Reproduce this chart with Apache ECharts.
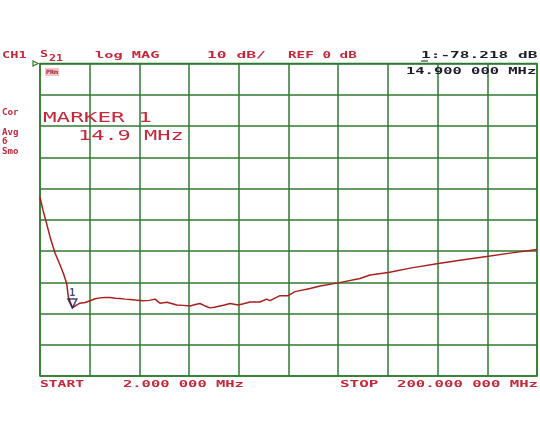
<!DOCTYPE html>
<html>
<head>
<meta charset="utf-8">
<script src="https://cdn.jsdelivr.net/npm/echarts@6/dist/echarts.min.js"></script>
<style>html,body{margin:0;padding:0;background:#fff}#c{width:540px;height:440px}</style>
</head>
<body>
<div id="c"></div>
<script>
// Data (S21 log MAG, 2 MHz .. 200 MHz)
const freqMHz = [2, 3.2, 4.4, 6, 8, 9.5, 11.3, 12.6, 13.3, 14.9, 16.5, 17.9, 20, 21.9, 24, 25.9, 28, 29.9, 32, 33.9, 36, 37.9, 40, 43, 45.5, 47.8, 49.8, 52.6, 56.5, 59, 61.8, 63.5, 65.7, 67.5, 69.7, 71.5, 73.7, 75.5, 77.7, 81, 83, 85.7, 89.6, 92.3, 93.6, 97.6, 100.9, 103.6, 109.6, 113.6, 120.8, 129.5, 133.5, 140.8, 150, 160.7, 170, 180.6, 190, 200];
const s21dB = [-42.7, -47, -50.5, -55.5, -60.7, -63.5, -67.1, -70.3, -74.7, -78.2, -77.3, -76.7, -76.5, -75.9, -75.3, -75.0, -74.9, -74.9, -75.1, -75.2, -75.4, -75.5, -75.7, -75.9, -75.8, -75.4, -76.7, -76.4, -77.3, -77.4, -77.6, -77.2, -76.8, -77.5, -78.2, -78.0, -77.6, -77.3, -76.8, -77.3, -76.9, -76.3, -76.3, -75.4, -75.9, -74.3, -74.3, -73.0, -72.0, -71.2, -70.2, -68.8, -67.7, -66.9, -65.4, -64.0, -62.9, -61.7, -60.6, -59.5];
const markerFreq = [14.9];
const markerDb = [-78.218];
const refDb = 0, scaleDbPerDiv = 10, divisions = 10;
const startMHz = 2, stopMHz = 200;

const RED = '#c4283a', INK = '#1c1c2c', GREEN = '#2f7a30';
const chart = echarts.init(document.getElementById('c'), null, {renderer: 'canvas'});

function txt(str, x, y, size, cell, color, weight) {
  const sx = cell / (0.602 * size);
  return {
    type: 'text', x: x, y: y, scaleX: sx, z: 100,
    style: {text: str, fill: color, font: (weight || 'bold') + ' ' + size + 'px "DejaVu Sans Mono"', textVerticalAlign: 'middle'}
  };
}

const option = {
  backgroundColor: '#ffffff',
  animation: false,
  grid: {left: 40, top: 63.5, right: 3, bottom: 64, show: true, borderColor: GREEN, borderWidth: 1.5, backgroundColor: 'transparent'},
  xAxis: [
    {type: 'value', min: startMHz, max: stopMHz, show: false},
    {type: 'value', min: 0, max: divisions, interval: 1, position: 'bottom',
     axisLine: {show: false}, axisTick: {show: false}, axisLabel: {show: false},
     splitLine: {show: true, lineStyle: {color: GREEN, width: 1.5}}}
  ],
  yAxis: {type: 'value', min: refDb - scaleDbPerDiv * divisions, max: refDb, interval: scaleDbPerDiv,
    axisLine: {show: false}, axisTick: {show: false}, axisLabel: {show: false},
    splitLine: {show: true, lineStyle: {color: GREEN, width: 1.5}}},
  series: [
    {type: 'line', xAxisIndex: 0, data: freqMHz.map((f, i) => [f, s21dB[i]]),
     showSymbol: false, smooth: false, lineStyle: {color: '#a8201e', width: 1.5}, z: 5},
    {type: 'scatter', xAxisIndex: 0, data: markerFreq.map((f, i) => [f, markerDb[i]]),
     symbol: 'triangle', symbolRotate: 180, symbolSize: [9, 9], symbolOffset: [0, -4.5],
     itemStyle: {color: 'rgba(255,255,255,0)', borderColor: '#1a1a5a', borderWidth: 1.5}, z: 6,
     label: {show: true, position: 'top', distance: 0, formatter: '1', color: '#1a1a5a', fontSize: 10, fontWeight: 'bold', fontFamily: 'DejaVu Sans Mono'}}
  ],
  graphic: [
    txt('CH1', 2, 56, 9, 8.2, RED),
    txt('S', 40, 55, 9, 8, RED),
    txt('21', 49, 59, 8, 7, RED),
    txt('log MAG', 95, 56, 9, 9.2, RED),
    txt('10 dB/', 207, 56, 9, 9.8, RED),
    txt('REF 0 dB', 288, 56, 9, 8.6, RED),
    txt('1:-78.218 dB', 421, 56, 9, 9.7, INK),
    {type: 'line', z: 100, shape: {x1: 421, y1: 61, x2: 428, y2: 61}, style: {stroke: INK, lineWidth: 1}},
    txt('14.900 000 MHz', 406, 72, 9, 9.3, INK),
    {type: 'rect', z: 100, shape: {x: 45, y: 68, width: 14, height: 8}, style: {fill: '#f2c4c4'}},
    {type: 'text', z: 101, x: 46, y: 72, scaleX: 1.1, style: {text: 'PRm', fill: '#a02030', font: 'bold 6px "DejaVu Sans Mono"', textVerticalAlign: 'middle'}},
    {type: 'polygon', z: 100, shape: {points: [[33, 61], [33, 66], [38, 63.5]]}, style: {fill: 'none', stroke: GREEN, lineWidth: 1.2}},
    txt('Cor', 2, 113, 8, 5.5, RED),
    txt('Avg', 2, 133, 8, 5.5, RED),
    txt('6', 2, 142, 8, 5.5, RED),
    txt('Smo', 2, 152, 8, 5.5, RED),
    txt('MARKER 1', 43, 118, 14, 13.6, RED, 'normal'),
    txt('14.9 MHz', 78, 136, 14, 13.2, RED, 'normal'),
    txt('START', 40, 385, 9, 8.8, RED),
    txt('2.000 000 MHz', 123, 385, 9, 9.3, RED),
    txt('STOP', 340, 385, 9, 9.6, RED),
    txt('200.000 000 MHz', 397, 385, 9, 9.4, RED)
  ]
};
chart.setOption(option);
</script>
</body>
</html>
